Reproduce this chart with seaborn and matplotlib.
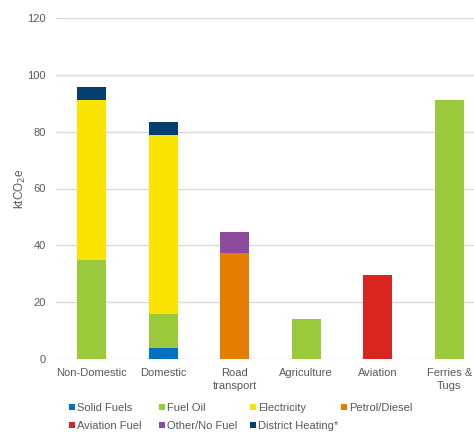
import matplotlib
matplotlib.use("Agg")
import matplotlib.pyplot as plt
import seaborn as sns
import numpy as np
import pandas as pd
from matplotlib.patches import Patch

categories = ["Non-Domestic", "Domestic", "Road\ntransport", "Agriculture", "Aviation", "Ferries &\nTugs"]
series_names = ["Solid Fuels", "Fuel Oil", "Electricity", "Petrol/Diesel",
                "Aviation Fuel", "Other/No Fuel", "District Heating*"]
solid_fuels = [0, 4, 0, 0, 0, 0]
fuel_oil = [35, 12, 0, 14, 0, 91]
electricity = [56, 63, 0, 0, 0, 0]
petrol_diesel = [0, 0, 37.2, 0, 0, 0]
aviation_fuel = [0, 0, 0, 0, 29.5, 0]
other_no_fuel = [0, 0, 7.5, 0, 0, 0]
district_heating = [4.7, 4.5, 0, 0, 0, 0]
yticks = [0, 20, 40, 60, 80, 100, 120]

colors = ["#0070C0", "#9BC93C", "#FBE300", "#E37E00", "#DA2420", "#8E4A9E", "#003F6E"]
series = [solid_fuels, fuel_oil, electricity, petrol_diesel, aviation_fuel, other_no_fuel, district_heating]

sns.set_theme(style="white")
plt.rcParams['font.family'] = ['Liberation Sans', 'DejaVu Sans']

fig = plt.figure(figsize=(4.74, 4.32), dpi=100)
ax = fig.add_axes([56/474, 73/432, (485-56)/474, (359-18)/432])

bottom = np.zeros(len(categories))
for name, vals, col in zip(series_names, series, colors):
    df = pd.DataFrame({"cat": categories, "val": vals})
    sns.barplot(data=df, x="cat", y="val", color=col, bottom=bottom, width=0.4,
                linewidth=0, ax=ax, errorbar=None, saturation=1)
    bottom = bottom + np.array(vals, dtype=float)

ax.set_xlim(-0.5, 5.5)
ax.set_ylim(0, 120)
ax.set_yticks(yticks)
ax.yaxis.grid(True, color="#D9D9D9", linewidth=1)
ax.set_axisbelow(True)
for s in ax.spines.values():
    s.set_visible(False)
ax.tick_params(axis="both", length=0, labelsize=8, labelcolor="#595959")
ax.tick_params(axis="x", pad=6.8)
ax.tick_params(axis="y", pad=7.5)
for lbl in ax.get_xticklabels():
    lbl.set_linespacing(1.35)
ax.set_xlabel("")
ax.set_ylabel("ktCO$_2$e", fontsize=8.5, color="#595959")
ax.yaxis.set_label_coords(-0.066, 0.5)

handles = [Patch(facecolor=c, edgecolor="none") for c in colors]
columns = [[0, 4], [1, 5], [2, 6], [3]]
col_x = [69, 159, 250, 341]
for idxs, x0 in zip(columns, col_x):
    leg = fig.legend([handles[i] for i in idxs], [series_names[i] for i in idxs],
                     ncol=1, loc="upper left", bbox_to_anchor=(x0/474, 1 - 403/432),
                     frameon=False, fontsize=8, handlelength=0.5, handleheight=0.5,
                     handletextpad=0.25, labelspacing=0.7,
                     borderaxespad=0, borderpad=0)
    for t in leg.get_texts():
        t.set_color("#595959")

fig.savefig("out.png", dpi=100)
